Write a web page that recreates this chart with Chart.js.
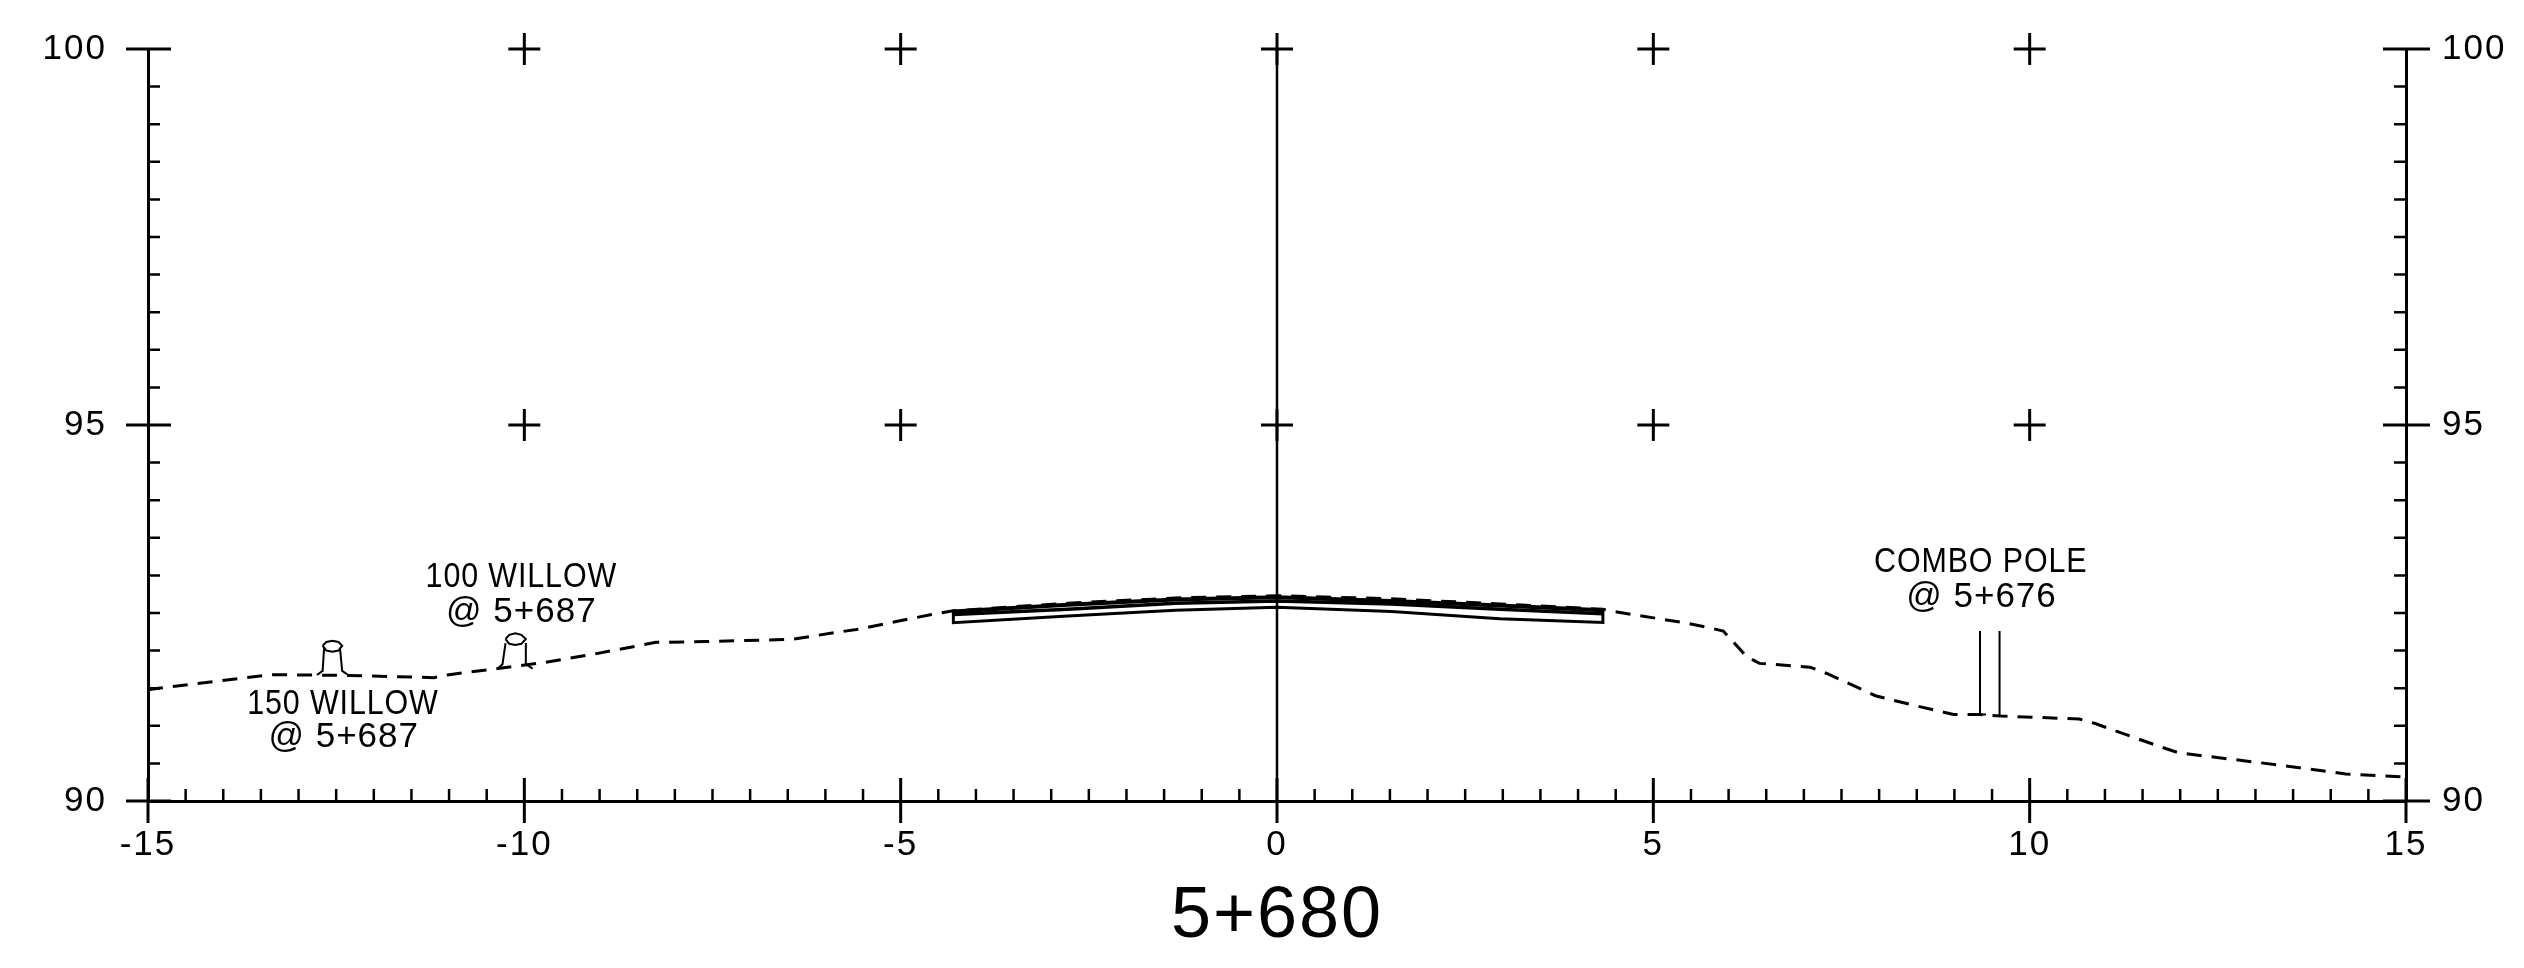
<!DOCTYPE html>
<html>
<head>
<meta charset="utf-8">
<title>5+680</title>
<style>
    body { margin: 0; background: #fff; }
    canvas { display: block; }
</style>
<script src="https://cdn.jsdelivr.net/npm/chart.js@4/dist/chart.umd.min.js"></script>
</head>
<body>
<canvas id="section" width="2524" height="968"></canvas>
<script>
const xTickLabels = [-15, -10, -5, 0, 5, 10, 15];
const yTickLabels = [90, 95, 100];
const sectionTitle = "5+680";

// existing ground, dashed
const groundX = [-15, -14.86, -13.7, -13.35, -12.34, -11.2, -11, -10.4, -9.75, -9.04, -8.25, -7.6, -6.45, -5.8, -5.59, -4.59, -4.3, -2.78, -1.35, 0, 1.52, 2.96, 4.33, 4.47, 5.41, 5.72, 5.93, 6.24, 6.41, 7.08, 7.32, 7.95, 8.43, 8.99, 9.34, 9.62, 10.66, 10.87, 11.71, 11.98, 13.3, 14.2, 15];
const groundY = [91.48, 91.5, 91.64, 91.68, 91.67, 91.64, 91.68, 91.755, 91.84, 91.96, 92.11, 92.12, 92.15, 92.25, 92.28, 92.48, 92.53, 92.63, 92.7, 92.73, 92.69, 92.62, 92.55, 92.52, 92.37, 92.31, 92.26, 91.92, 91.83, 91.78, 91.69, 91.4, 91.28, 91.15, 91.15, 91.13, 91.09, 91.03, 90.73, 90.64, 90.48, 90.36, 90.32];

// road layers
const roadX = [-4.3, -2.78, -1.35, 0, 1.52, 2.96, 4.33];
const roadTopY = [92.52, 92.61, 92.68, 92.71, 92.66, 92.6, 92.535];
const roadMidY = [92.48, 92.55, 92.63, 92.66, 92.62, 92.55, 92.49];
const roadBaseX = [-4.3, -4.3, -2.78, -1.35, 0, 1.52, 2.96, 4.33, 4.33];
const roadBaseY = [92.52, 92.37, 92.46, 92.535, 92.575, 92.52, 92.425, 92.375, 92.535];

// centre line
const centreX = [0, 0];
const centreY = [90, 100];

// + marks
const crossX = [-10, -5, 0, 5, 10, -10, -5, 0, 5, 10];
const crossY = [100, 100, 100, 100, 100, 95, 95, 95, 95, 95];

// willows, null = pen up
const willow150X = [-12.755, -12.68, -12.66, null, -12.34, -12.42, -12.45, null, -12.68, -12.63, -12.55, -12.47, -12.42, -12.47, -12.55, -12.63, -12.68];
const willow150Y = [91.675, 91.73, 92.04, null, 91.675, 91.73, 92.04, null, 92.065, 92.115, 92.13, 92.115, 92.065, 92.0, 91.985, 92.0, 92.065];
const willow100X = [-10.36, -10.29, -10.25, null, -9.89, -9.98, -9.98, null, -10.25, -10.2, -10.12, -10.04, -9.98, -10.04, -10.12, -10.2, -10.25];
const willow100Y = [91.755, 91.82, 92.1, null, 91.76, 91.82, 92.1, null, 92.154, 92.21, 92.23, 92.21, 92.154, 92.09, 92.075, 92.09, 92.154];

// combo pole
const poleX = [9.34, 9.34, 9.42, null, 9.6, 9.6, 9.68];
const poleY = [92.26, 91.15, 91.15, null, 92.26, 91.13, 91.13];

// text notes
const noteLabels = ["100 WILLOW", "@ 5+687", "150 WILLOW", "@ 5+687", "COMBO POLE", "@ 5+676"];
const noteX = [-10.04, -10.04, -12.41, -12.4, 9.35, 9.36];
const noteY = [92.97, 92.51, 91.29, 90.85, 93.18, 92.71];

function pts(xs, ys) {
    return xs.map((x, i) => ({ x: x, y: ys[i] }));
}

function lineSet(xs, ys, width, extra) {
    return Object.assign({
        data: pts(xs, ys),
        showLine: true,
        borderColor: "#000",
        borderWidth: width,
        pointRadius: 0,
        tension: 0
    }, extra || {});
}

// axis ticks cross the axis on the labelled values, minor ones only point inward
const axisTicks = {
    id: "axisTicks",
    afterDraw(chart) {
        const ctx = chart.ctx;
        const area = chart.chartArea;
        ctx.save();
        ctx.strokeStyle = "#000";
        chart.scales.x.ticks.forEach(t => {
            const px = chart.scales.x.getPixelForValue(t.value);
            const major = xTickLabels.includes(t.value);
            ctx.lineWidth = major ? 3 : 2.5;
            ctx.beginPath();
            ctx.moveTo(px, major ? area.bottom - 23 : area.bottom - 12);
            ctx.lineTo(px, major ? area.bottom + 22 : area.bottom);
            ctx.stroke();
        });
        chart.scales.y.ticks.forEach(t => {
            const py = chart.scales.y.getPixelForValue(t.value);
            const major = yTickLabels.includes(t.value);
            ctx.lineWidth = major ? 3 : 2.5;
            ctx.beginPath();
            ctx.moveTo(area.left - (major ? 22 : 0), py);
            ctx.lineTo(area.left + (major ? 23 : 12), py);
            ctx.moveTo(area.right - (major ? 23 : 12), py);
            ctx.lineTo(area.right + (major ? 24 : 0), py);
            ctx.stroke();
        });
        ctx.restore();
    }
};

const notes = {
    id: "notes",
    afterDraw(chart) {
        const ctx = chart.ctx;
        ctx.letterSpacing = "1px";
        ctx.font = "35px 'Liberation Sans'";
        ctx.fillStyle = "#000";
        ctx.textAlign = "center";
        ctx.textBaseline = "middle";
        noteLabels.forEach((label, i) => {
            ctx.save();
            ctx.translate(chart.scales.x.getPixelForValue(noteX[i]), chart.scales.y.getPixelForValue(noteY[i]));
            // the name lines are drawn narrower than the station lines
            if (label[0] != "@") ctx.scale(0.87, 1);
            ctx.fillText(label, 0, 0);
            ctx.restore();
        });
    }
};

const spacing = {
    id: "spacing",
    beforeDraw(chart) {
        chart.ctx.letterSpacing = "2px";
    }
};

new Chart(document.getElementById("section"), {
    type: "scatter",
    data: {
        datasets: [
            lineSet(centreX, centreY, 2.5),
            lineSet(groundX, groundY, 3, { borderDash: [15, 10] }),
            lineSet(roadX, roadTopY, 4),
            lineSet(roadX, roadMidY, 3.5),
            lineSet(roadBaseX, roadBaseY, 3),
            lineSet(willow150X, willow150Y, 2),
            lineSet(willow100X, willow100Y, 2),
            lineSet(poleX, poleY, 2),
            {
                data: pts(crossX, crossY),
                pointStyle: "cross",
                pointRadius: 16,
                pointBorderColor: "#000",
                pointBorderWidth: 3,
                clip: false
            }
        ]
    },
    options: {
        responsive: false,
        animation: false,
        events: [],
        layout: { padding: { top: 49 } },
        plugins: {
            legend: { display: false },
            tooltip: { enabled: false }
        },
        scales: {
            x: {
                type: "linear",
                position: "bottom",
                min: -15,
                max: 15,
                grid: { display: false },
                border: { display: true, color: "#000", width: 3 },
                afterFit(scale) { scale.height = 167; },
                ticks: {
                    stepSize: 0.5,
                    autoSkip: false,
                    maxRotation: 0,
                    color: "#000",
                    padding: 15,
                    font: { family: "Liberation Sans", size: 35 },
                    callback: v => xTickLabels.includes(v) ? String(v) : ""
                },
                title: {
                    display: true,
                    text: sectionTitle,
                    color: "#000",
                    font: { family: "Liberation Sans", size: 72 },
                    padding: { top: 0, bottom: 8 }
                }
            },
            y: {
                type: "linear",
                position: "left",
                min: 90,
                max: 100,
                grid: { display: false },
                border: { display: true, color: "#000", width: 3 },
                afterFit(scale) { scale.width = 148; scale.paddingTop = 0; scale.paddingBottom = 0; },
                ticks: {
                    stepSize: 0.5,
                    autoSkip: false,
                    color: "#000",
                    padding: 33,
                    font: { family: "Liberation Sans", size: 35 },
                    callback: v => yTickLabels.includes(v) ? String(v) : ""
                }
            },
            yRight: {
                type: "linear",
                position: "right",
                min: 90,
                max: 100,
                grid: { display: false },
                border: { display: true, color: "#000", width: 3 },
                afterFit(scale) { scale.width = 118; scale.paddingTop = 0; scale.paddingBottom = 0; },
                ticks: {
                    stepSize: 0.5,
                    autoSkip: false,
                    color: "#000",
                    padding: 28,
                    font: { family: "Liberation Sans", size: 35 },
                    callback: v => yTickLabels.includes(v) ? String(v) : ""
                }
            }
        }
    },
    plugins: [spacing, axisTicks, notes]
});
</script>
</body>
</html>
